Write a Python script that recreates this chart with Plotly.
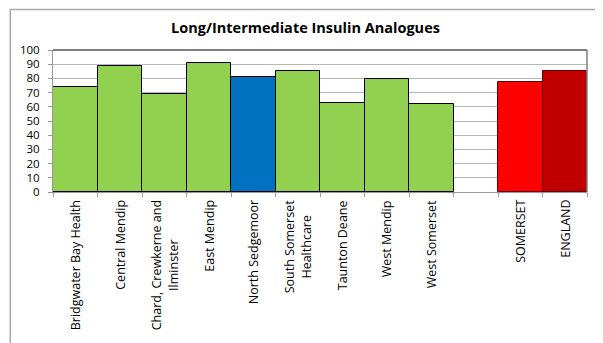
import plotly.graph_objects as go

# --- data ---
categories = ["Bridgwater Bay Health", "Central Mendip", "Chard, Crewkerne and<br>Ilminster",
              "East Mendip", "North Sedgemoor", "South Somerset<br>Healthcare",
              "Taunton Deane", "West Mendip", "West Somerset", " ", "SOMERSET", "ENGLAND"]
values = [73.7, 88.7, 68.7, 90.8, 81.2, 85.0, 62.8, 79.3, 62.1, None, 77.2, 85.0]
bar_colors = ["#92D050"] * 4 + ["#0070C0"] + ["#92D050"] * 4 + ["#FFFFFF", "#FF0000", "#C00000"]
edge_colors = ["#000000"] * 10 + ["#600000", "#600000"]
y_ticks = list(range(0, 101, 10))

fig = go.Figure(go.Bar(
    x=categories, y=values,
    marker=dict(color=bar_colors, line=dict(color=edge_colors, width=1)),
    width=1,
    hoverinfo="skip",
))

# page body has an 8px margin, so the figure is sized/placed to compensate
fig.update_layout(
    width=595, height=335,
    margin=dict(l=45, r=16, t=42, b=151, autoexpand=False),
    paper_bgcolor="white", plot_bgcolor="white",
    font=dict(family="Open Sans, Carlito, Calibri, sans-serif", size=12, color="#000000"),
    title=dict(text="<b>Long/Intermediate Insulin Analogues</b>", x=0.5, xanchor="center",
               y=0.94, yanchor="middle", font=dict(size=14.5)),
    bargap=0,
    showlegend=False,
)

fig.update_xaxes(
    type="category", tickson="boundaries", ticks="outside", ticklen=4,
    tickcolor="#999999", showline=True, linecolor="#999999", linewidth=1,
    showgrid=False, showticklabels=False, automargin=False,
)
fig.update_yaxes(
    range=[0, 100], tickvals=y_ticks, ticks="outside", ticklen=4, tickcolor="#999999",
    showline=True, linecolor="#999999", linewidth=1,
    showgrid=True, gridcolor="#B8B8B8", gridwidth=1, zeroline=False,
    tickfont=dict(size=11.5), ticklabelstandoff=6, automargin=False,
)

# rotated category labels, multi-line ones centred like the reference
for cat in categories:
    if cat.strip():
        fig.add_annotation(x=cat, y=0, xref="x", yref="paper", text=cat, textangle=-90,
                           showarrow=False, xanchor="center", yanchor="top", yshift=-6,
                           align="center", font=dict(size=12.5))

# top edge of plot (black) and right edge (grey)
fig.add_shape(type="line", xref="paper", yref="paper", x0=0, x1=1, y0=1, y1=1,
              line=dict(color="#000000", width=1))
fig.add_shape(type="line", xref="paper", yref="paper", x0=1, x1=1, y0=0, y1=1,
              line=dict(color="#808080", width=1.5))

# chart-area frame (open at right and bottom, like the reference crop)
fig.add_shape(type="rect", xref="paper", yref="paper", x0=-0.08, x1=1.2, y0=-1.5, y1=1.285,
              line=dict(color="#AAAAAA", width=1.5), layer="below")

fig.write_html("out.html")
